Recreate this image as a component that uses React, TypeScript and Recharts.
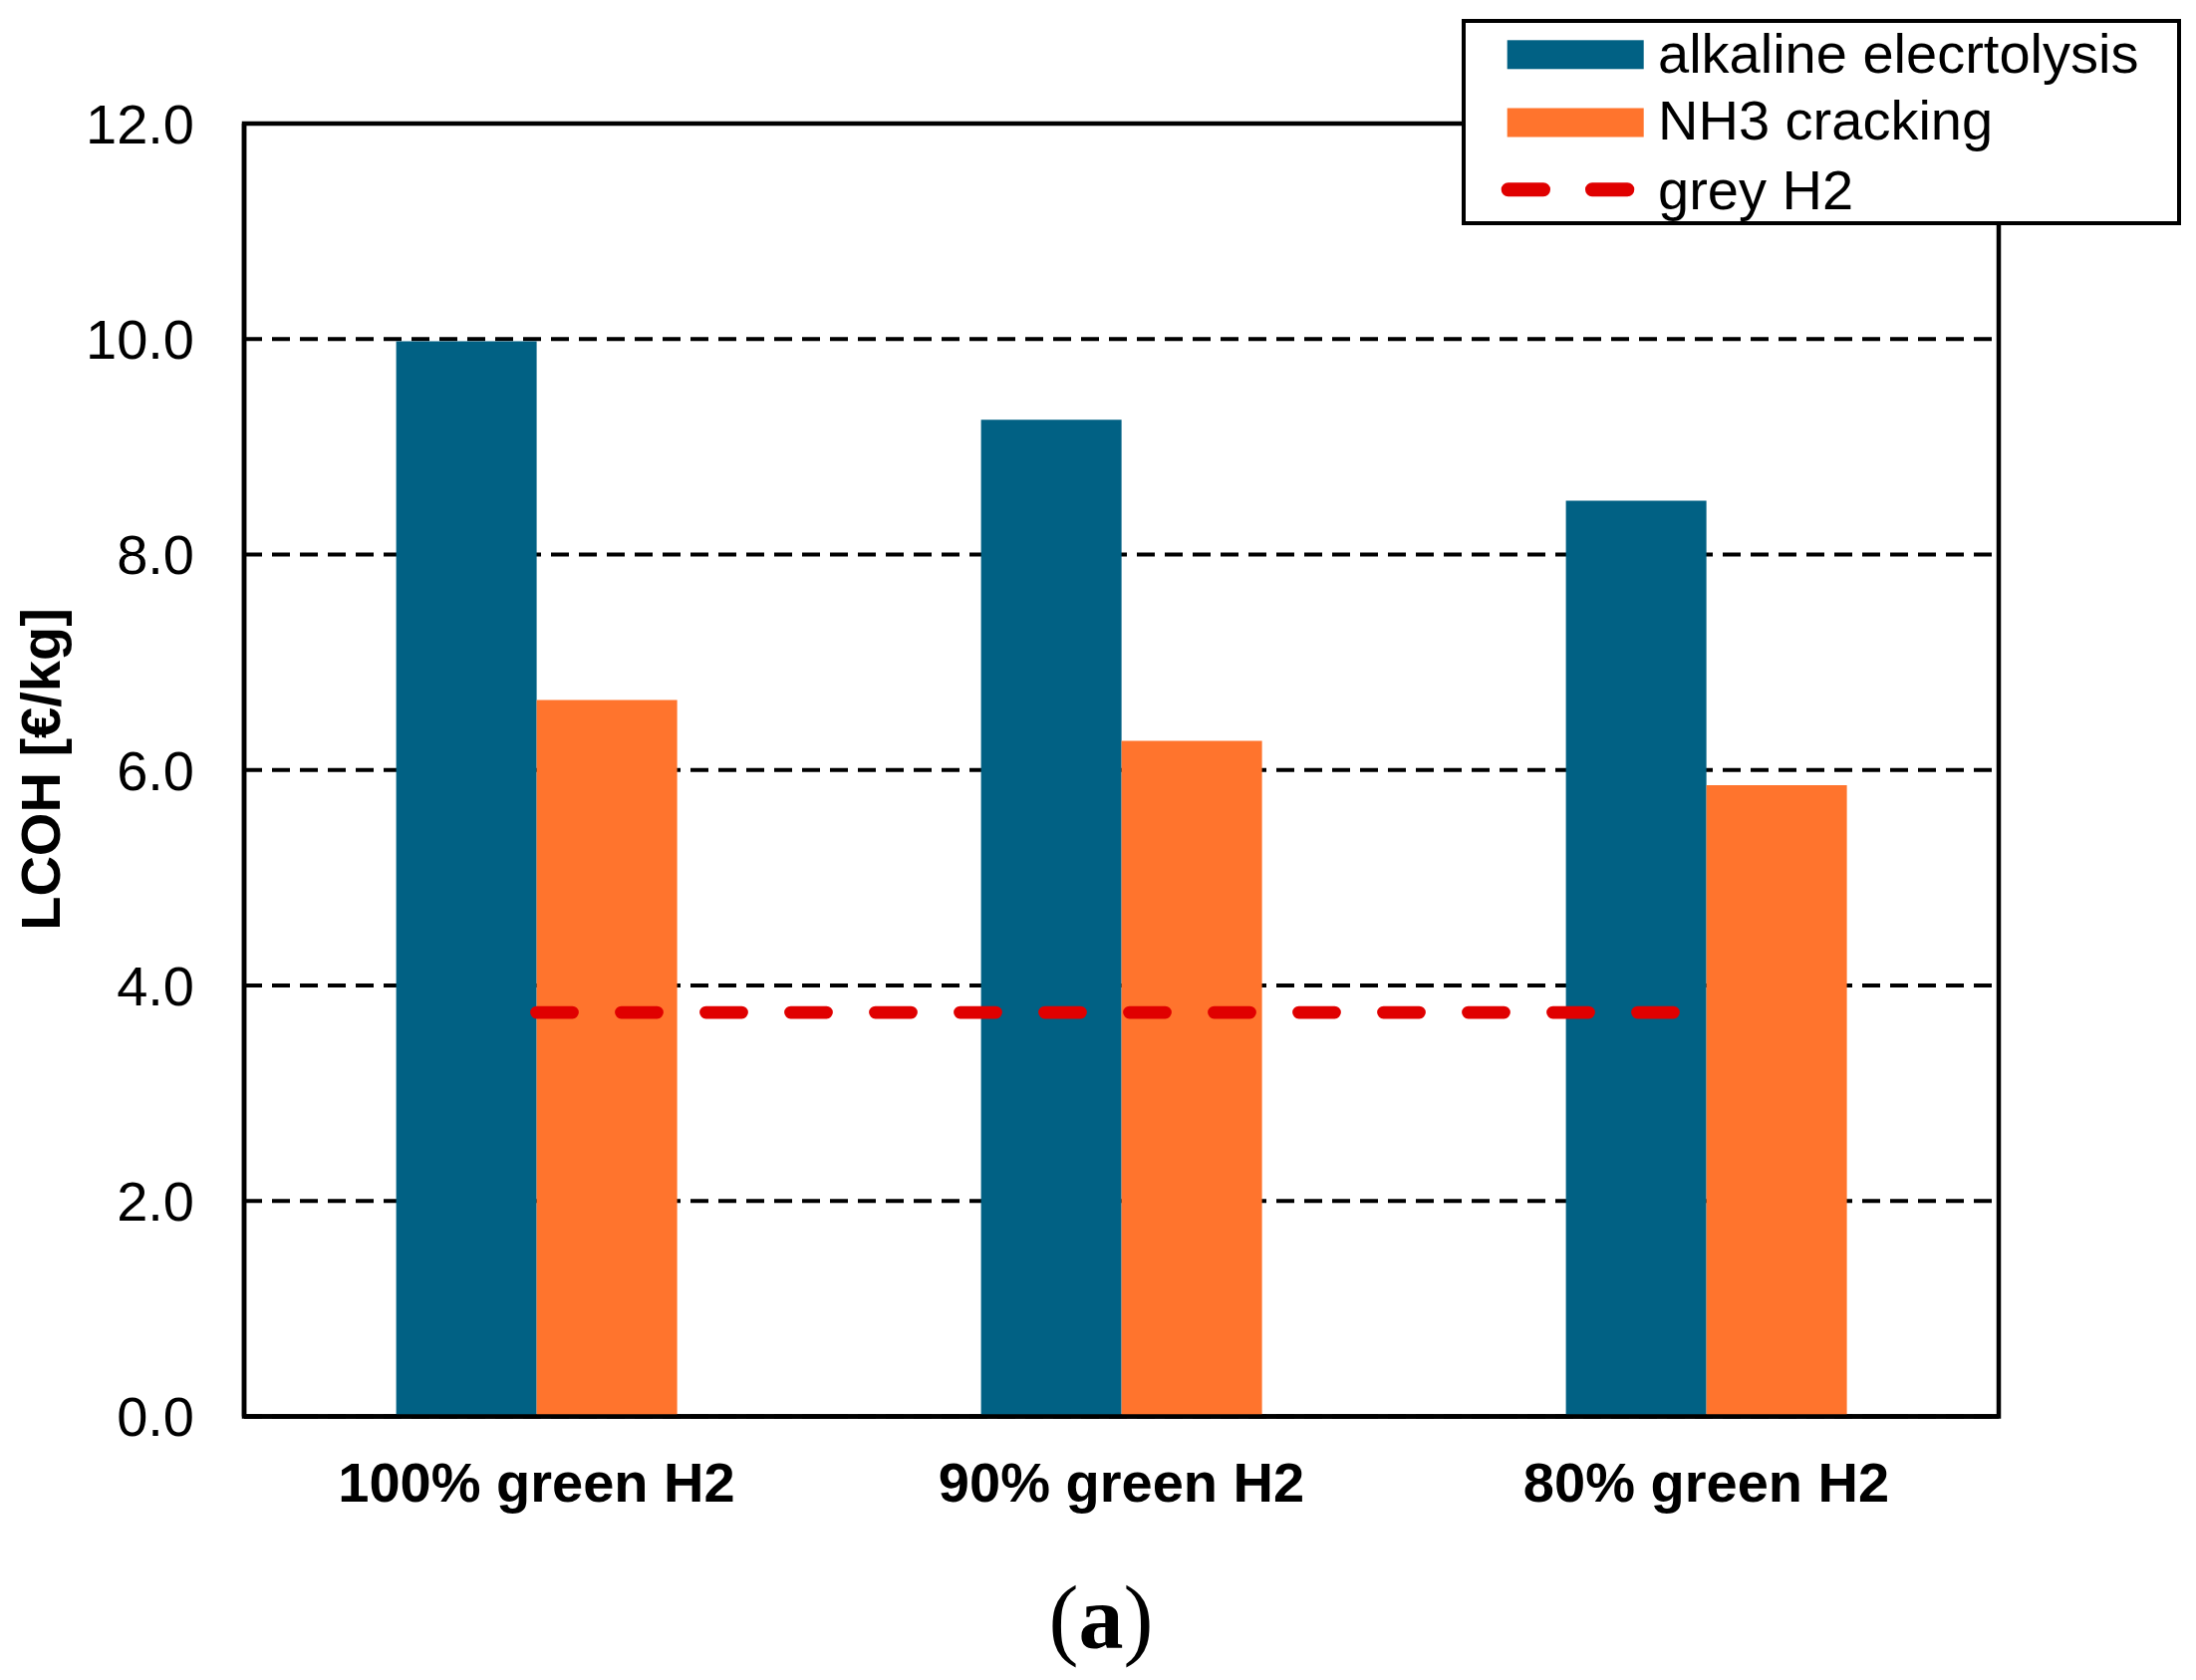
import React from 'react';
import { ComposedChart, Bar, Line, XAxis, YAxis, CartesianGrid, ReferenceArea } from 'recharts';

const categories = ['100% green H2', '90% green H2', '80% green H2'];
const alkaline = [9.98, 9.25, 8.5];
const nh3 = [6.65, 6.27, 5.86];
const grey = [3.75, 3.75, 3.75];
const yTicks = [0, 2, 4, 6, 8, 10, 12];

const seriesNames = ['alkaline elecrtolysis', 'NH3 cracking', 'grey H2'];
const BLUE = '#016184';
const ORANGE = '#FF742D';
const RED = '#E00000';

const data = categories.map((c, i) => ({
  cat: c,
  alkaline: alkaline[i],
  nh3: nh3[i],
  grey: grey[i],
}));

const SANS = '"Liberation Sans", Arial, sans-serif';
const SERIF = '"Liberation Serif", "Times New Roman", serif';
const AXIS = { stroke: '#000', strokeWidth: 4.5 };

export default function App() {
  return (
    <div style={{ position: 'relative', width: 2196, height: 1678 }}>
      <ComposedChart
        width={2196}
        height={1678}
        data={data}
        margin={{ top: 116, right: 198, bottom: 164.5, left: 0 }}
        barCategoryGap="26%"
        barGap={0}
      >
        <CartesianGrid
          horizontal
          vertical={false}
          stroke="#000"
          strokeWidth={4}
          strokeDasharray="18 10"
        />
        <XAxis
          dataKey="cat"
          height={100}
          axisLine={AXIS}
          tickLine={false}
          tickSize={6}
          tickMargin={40}
          tick={{ fill: '#000', fontSize: 56, fontWeight: 700, fontFamily: SANS }}
          interval={0}
        />
        <YAxis
          width={237}
          domain={[0, 12]}
          ticks={yTicks}
          interval={0}
          axisLine={AXIS}
          tickLine={false}
          tickSize={6}
          tickMargin={44}
          tickFormatter={(v: number) => v.toFixed(1)}
          tick={{ fill: '#000', fontSize: 56, fontFamily: SANS }}
        />
        <Bar dataKey="alkaline" name={seriesNames[0]} fill={BLUE} isAnimationActive={false} />
        <Bar dataKey="nh3" name={seriesNames[1]} fill={ORANGE} isAnimationActive={false} />
        <ReferenceArea
          y1={yTicks[0]}
          y2={yTicks[yTicks.length - 1]}
          fill="none"
          fillOpacity={0}
          stroke="#000"
          strokeWidth={4.5}
          ifOverflow="visible"
        />
        <Line
          dataKey="grey"
          name={seriesNames[2]}
          stroke={RED}
          strokeWidth={12.7}
          strokeDasharray="36 49"
          strokeLinecap="round"
          dot={false}
          activeDot={false}
          isAnimationActive={false}
        />
        <text
          x={52}
          y={764}
          transform="rotate(-90 52 764)"
          textAnchor="middle"
          fontFamily={SANS}
          fontWeight={700}
          fontSize={56}
          fill="#000"
        >
          LCOH [€/kg]
        </text>
        <text x={1097} y={1646} textAnchor="middle" fontFamily={SERIF} fontSize={90} fill="#000">
          (<tspan fontWeight={700}>a</tspan>)
        </text>
      </ComposedChart>
      <svg
        style={{ position: 'absolute', left: 1459, top: 10.7 }}
        width={722}
        height={207}
      >
        <rect x={2} y={2} width={718} height={203} fill="#fff" stroke="#000" strokeWidth={4} />
        <rect x={45.7} y={21.3} width={137} height={29} fill={BLUE} />
        <rect x={45.7} y={89.5} width={137} height={29} fill={ORANGE} />
        <line
          x1={46.7}
          y1={171.3}
          x2={166.7}
          y2={171.3}
          stroke={RED}
          strokeWidth={14}
          strokeLinecap="round"
          strokeDasharray="35.3 49"
        />
        <text x={197} y={53.6} fontFamily={SANS} fontSize={56} fill="#000">{seriesNames[0]}</text>
        <text x={197} y={121.3} fontFamily={SANS} fontSize={56} fill="#000">{seriesNames[1]}</text>
        <text x={197} y={190.6} fontFamily={SANS} fontSize={56} fill="#000">{seriesNames[2]}</text>
      </svg>
    </div>
  );
}
